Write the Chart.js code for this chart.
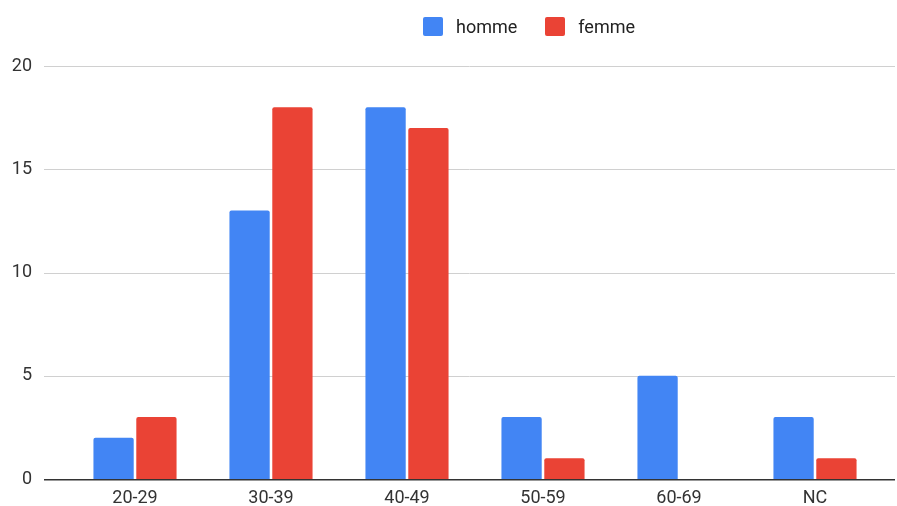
<!DOCTYPE html>
<html>
<head>
<meta charset="utf-8">
<script src="https://cdn.jsdelivr.net/npm/chart.js@4/dist/chart.umd.min.js"></script>
<style>
  html, body { margin: 0; padding: 0; background: #fff; overflow: hidden; }
  #wrap { position: relative; width: 897px; height: 506px; }
  #legend { position: absolute; left: 423px; top: 16px; display: flex; align-items: center;
            font-family: Roboto, Arial, sans-serif; font-size: 18px; color: #222; }
  .item { display: flex; align-items: center; margin-right: 28px; }
  .box { width: 20px; height: 19px; border-radius: 2px; margin-right: 13px; }
</style>
</head>
<body>
<div id="wrap">
  <canvas id="chart"></canvas>
  <div id="legend"></div>
</div>
<script>
const categories = ['20-29', '30-39', '40-49', '50-59', '60-69', 'NC'];
const homme = [2, 13, 18, 3, 5, 3];
const femme = [3, 18, 17, 1, 0, 1];
const yTicks = [0, 5, 10, 15, 20];

const blue = '#4285F4';
const red = '#EA4335';

// horizontal grid lines run wider than the bars' area
const gridLines = {
    id: 'gridLines',
    beforeDatasetsDraw(chart) {
        const y = chart.scales.y;
        const c = chart.ctx;
        c.save();
        c.strokeStyle = '#d0d0d0';
        c.lineWidth = 1;
        yTicks.forEach(v => {
            if (v === 0) return;
            const py = Math.round(y.getPixelForValue(v)) + 0.5;
            c.beginPath();
            c.moveTo(44, py);
            c.lineTo(895, py);
            c.stroke();
        });
        c.restore();
    },
    afterDatasetsDraw(chart) {
        const y = chart.scales.y;
        const c = chart.ctx;
        const py = Math.round(y.getPixelForValue(0));
        c.save();
        c.fillStyle = '#333';
        c.fillRect(44, py, 851, 1.5);
        c.restore();
    }
};

const chart = new Chart(document.getElementById('chart'), {
    type: 'bar',
    data: {
        labels: categories,
        datasets: [
            { label: 'homme', data: homme, backgroundColor: blue },
            { label: 'femme', data: femme, backgroundColor: red }
        ]
    },
    options: {
        responsive: true,
        maintainAspectRatio: false,
        animation: false,
        layout: { padding: { top: 66, right: 14, left: 0, bottom: 0 } },
        datasets: {
            bar: { categoryPercentage: 0.63, barPercentage: 0.94, borderRadius: 2 }
        },
        scales: {
            x: {
                grid: { display: false, drawTicks: false },
                border: { display: false },
                ticks: { color: '#333', font: { family: 'Roboto', size: 18 }, padding: 9 },
                afterFit(s) { s.height = 27; s.paddingLeft = 0; s.paddingRight = 0; }
            },
            y: {
                min: 0, max: 20,
                grid: { display: false, drawTicks: false },
                border: { display: false },
                afterBuildTicks(s) { s.ticks = yTicks.map(v => ({ value: v })); },
                ticks: { color: '#333', font: { family: 'Roboto', size: 18 }, padding: 35 },
                afterFit(s) { s.width = 67; s.paddingTop = 0; s.paddingBottom = 0; }
            }
        },
        plugins: {
            legend: { display: false },
            tooltip: { enabled: false }
        }
    },
    plugins: [gridLines]
});

const legendEl = document.getElementById('legend');
chart.data.datasets.forEach(ds => {
    const item = document.createElement('div');
    item.className = 'item';
    const box = document.createElement('span');
    box.className = 'box';
    box.style.background = ds.backgroundColor;
    const txt = document.createElement('span');
    txt.textContent = ds.label;
    item.appendChild(box);
    item.appendChild(txt);
    legendEl.appendChild(item);
});
</script>
</body>
</html>
